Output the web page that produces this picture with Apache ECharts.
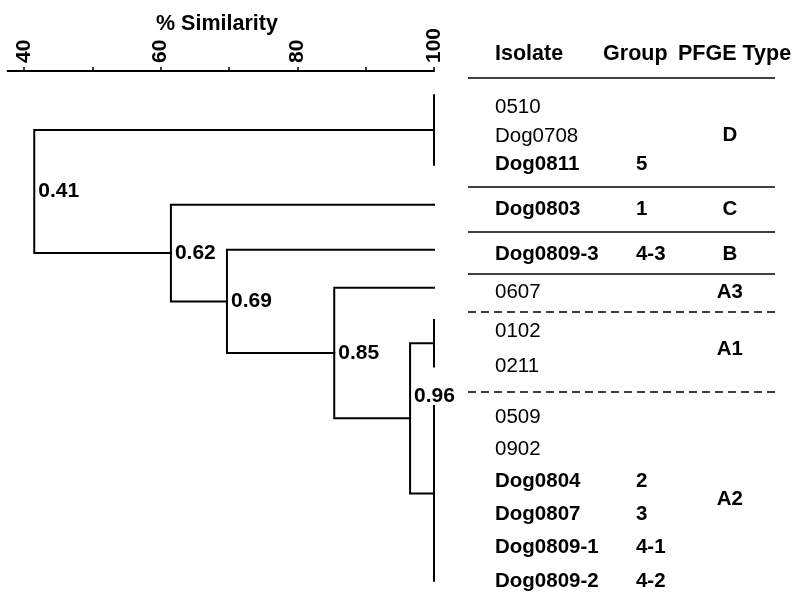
<!DOCTYPE html>
<html>
<head>
<meta charset="utf-8">
<title>PFGE dendrogram</title>
<script src="https://cdn.jsdelivr.net/npm/echarts@6/dist/echarts.min.js"></script>
<style>
  html, body { margin: 0; padding: 0; background: #fff; }
  #main { width: 804px; height: 598px; }
</style>
</head>
<body>
<div id="main"></div>
<script>
// Isolates in table order (top to bottom)
const isolates = ['0510', 'Dog0708', 'Dog0811', 'Dog0803', 'Dog0809-3', '0607', '0102', '0211',
  '0509', '0902', 'Dog0804', 'Dog0807', 'Dog0809-1', 'Dog0809-2'];
const groups = ['', '', '5', '1', '4-3', '', '', '', '', '', '2', '3', '4-1', '4-2'];
// vertical position of each table row, in row units
const rowPos = [1.09, 2.0, 2.85, 4.21, 5.58, 6.73, 7.91, 8.97, 10.52, 11.48, 12.45, 13.45, 14.45, 15.48];

// PFGE types = leaf clusters of the tree (first and last row of each)
const pfgeTypes = ['D', 'C', 'B', 'A3', 'A1', 'A2'];
const pfgeRows = [[0, 2], [3, 3], [4, 4], [5, 5], [6, 7], [8, 13]];
const pfgeSeparators = ['solid', 'solid', 'solid', 'dashed', 'dashed'];

// internal nodes of the dendrogram (% similarity), children: c = cluster, n = node
const nodeSimilarity = [96.5, 85.4, 69.7, 61.5, 41.5];
const nodeLabels = ['0.96', '0.85', '0.69', '0.62', '0.41'];
const nodeChildren = [['c4', 'c5'], ['c3', 'n0'], ['c2', 'n1'], ['c1', 'n2'], ['c0', 'n3']];

const axisTicks = [40, 50, 60, 70, 80, 90, 100];
const axisLabels = [40, 60, 80, 100];
const tableHeader = ['Isolate', 'Group', 'PFGE Type'];

(function() {
  'use strict';

  const FONT = 'Liberation Sans, Arial, sans-serif';
  const INK = '#000';
  const chart = echarts.init(document.getElementById('main'));

  // --- tree geometry ---
  const clusterGeo = pfgeRows.map(function(r) {
    const first = rowPos[r[0]];
    const last = rowPos[r[1]];
    if (r[0] === r[1]) {
      const y = first - 0.15;
      return { x: 100, top: y, bottom: y, y: y };
    }
    const top = first - 0.35;
    return { x: 100, top: top, bottom: last, y: (top + last) / 2 };
  });

  const nodeGeo = [];
  function getRef(ref) {
    const idx = parseInt(ref.slice(1), 10);
    return ref[0] === 'c' ? clusterGeo[idx] : nodeGeo[idx];
  }
  nodeSimilarity.forEach(function(sim, i) {
    const a = getRef(nodeChildren[i][0]);
    const b = getRef(nodeChildren[i][1]);
    nodeGeo[i] = { x: sim, a: a, b: b, y: (a.y + b.y) / 2 };
  });

  const treeLines = [];
  clusterGeo.forEach(function(c) {
    if (c.top !== c.bottom) {
      treeLines.push({ coords: [[100, c.top], [100, c.bottom]] });
    }
  });
  nodeGeo.forEach(function(n) {
    treeLines.push({ coords: [[n.a.x, n.a.y], [n.x, n.a.y], [n.x, n.b.y], [n.b.x, n.b.y]] });
  });

  const nodeLabelData = nodeGeo.map(function(n, i) {
    const item = { value: [n.x, (n.a.y + n.b.y) / 2], name: nodeLabels[i] };
    if (nodeLabels[i] === '0.96') item.label = { offset: [4, -22] };
    return item;
  });

  // --- table ---
  const COL_ISOLATE = 0.088;
  const COL_GROUP_HEAD = 0.44;
  const COL_GROUP = 0.547;
  const COL_PFGE_HEAD = 0.684;
  const COL_PFGE = 0.853;
  const HEADER_Y = -0.5;

  const tableText = [];
  tableHeader.forEach(function(h, i) {
    tableText.push({ value: [[COL_ISOLATE, COL_GROUP_HEAD, COL_PFGE_HEAD][i], HEADER_Y], name: h,
      label: { fontSize: 21.5 } });
  });
  isolates.forEach(function(name, i) {
    const bold = groups[i] !== '';
    tableText.push({ value: [COL_ISOLATE, rowPos[i]], name: name,
      label: { fontWeight: bold ? 'bold' : 'normal' } });
    if (bold) tableText.push({ value: [COL_GROUP, rowPos[i]], name: groups[i] });
  });
  pfgeTypes.forEach(function(t, i) {
    const y = (rowPos[pfgeRows[i][0]] + rowPos[pfgeRows[i][1]]) / 2;
    tableText.push({ value: [COL_PFGE, y], name: t, label: { align: 'center' } });
  });

  const headLineY = (HEADER_Y + rowPos[0]) / 2 - 0.1;
  const sepLines = [{ coords: [[0, headLineY], [1, headLineY]], lineStyle: { type: 'solid' } }];
  pfgeSeparators.forEach(function(type, i) {
    const y = (rowPos[pfgeRows[i][1]] + rowPos[pfgeRows[i + 1][0]]) / 2;
    sepLines.push({ coords: [[0, y], [1, y]], lineStyle: { type: type === 'dashed' ? [8, 5] : 'solid' } });
  });

  // plain black text, no inside-label stroke
  const textBase = {
    show: true,
    position: 'inside',
    align: 'left',
    verticalAlign: 'middle',
    formatter: function(p) { return p.name; },
    fontWeight: 'bold',
    fontFamily: FONT,
    color: INK,
    textBorderWidth: 0,
    textBorderColor: 'transparent'
  };

  const option = {
    backgroundColor: '#fff',
    animation: false,
    title: {
      text: '% Similarity',
      left: 151,
      top: 8,
      textStyle: { fontSize: 21.5, fontWeight: 'bold', fontFamily: FONT, color: INK }
    },
    grid: [
      { left: 24 - (40 - 37.6) * (410 / 60), right: 370, top: 71, bottom: 0 },
      { left: 468, right: 29, top: 38, bottom: 0 }
    ],
    xAxis: [{
      gridIndex: 0,
      type: 'value',
      position: 'top',
      min: 37.6,
      max: 100,
      axisLine: { lineStyle: { color: INK, width: 2 } },
      axisTick: { show: true, inside: false, length: 4, customValues: axisTicks, lineStyle: { color: INK, width: 1.5 } },
      axisLabel: {
        customValues: axisLabels,
        rotate: 90,
        margin: 8,
        fontSize: 21,
        fontWeight: 'bold',
        fontFamily: FONT,
        color: INK
      },
      splitLine: { show: false }
    }, {
      gridIndex: 1,
      type: 'value',
      min: 0,
      max: 1,
      show: false
    }],
    yAxis: [{
      gridIndex: 0, type: 'value', min: 0, max: 16, inverse: true, show: false
    }, {
      gridIndex: 1, type: 'value', min: -1, max: 16, inverse: true, show: false
    }],
    series: [{
      name: 'tree',
      type: 'lines',
      coordinateSystem: 'cartesian2d',
      xAxisIndex: 0,
      yAxisIndex: 0,
      polyline: true,
      silent: true,
      lineStyle: { color: INK, width: 2, opacity: 1, cap: 'square', join: 'miter' },
      data: treeLines
    }, {
      name: 'node labels',
      type: 'scatter',
      xAxisIndex: 0,
      yAxisIndex: 0,
      symbolSize: 0,
      clip: false,
      silent: true,
      itemStyle: { color: INK, opacity: 1 },
      label: Object.assign({}, textBase, { offset: [4, 0], fontSize: 21 }),
      data: nodeLabelData
    }, {
      name: 'separators',
      type: 'lines',
      coordinateSystem: 'cartesian2d',
      xAxisIndex: 1,
      yAxisIndex: 1,
      silent: true,
      lineStyle: { color: INK, width: 1.5, opacity: 1 },
      data: sepLines
    }, {
      name: 'table',
      type: 'scatter',
      xAxisIndex: 1,
      yAxisIndex: 1,
      symbolSize: 0,
      clip: false,
      silent: true,
      itemStyle: { color: INK, opacity: 1 },
      label: Object.assign({}, textBase, { fontSize: 20.5 }),
      data: tableText
    }]
  };

  chart.setOption(option);
})();
</script>
</body>
</html>
